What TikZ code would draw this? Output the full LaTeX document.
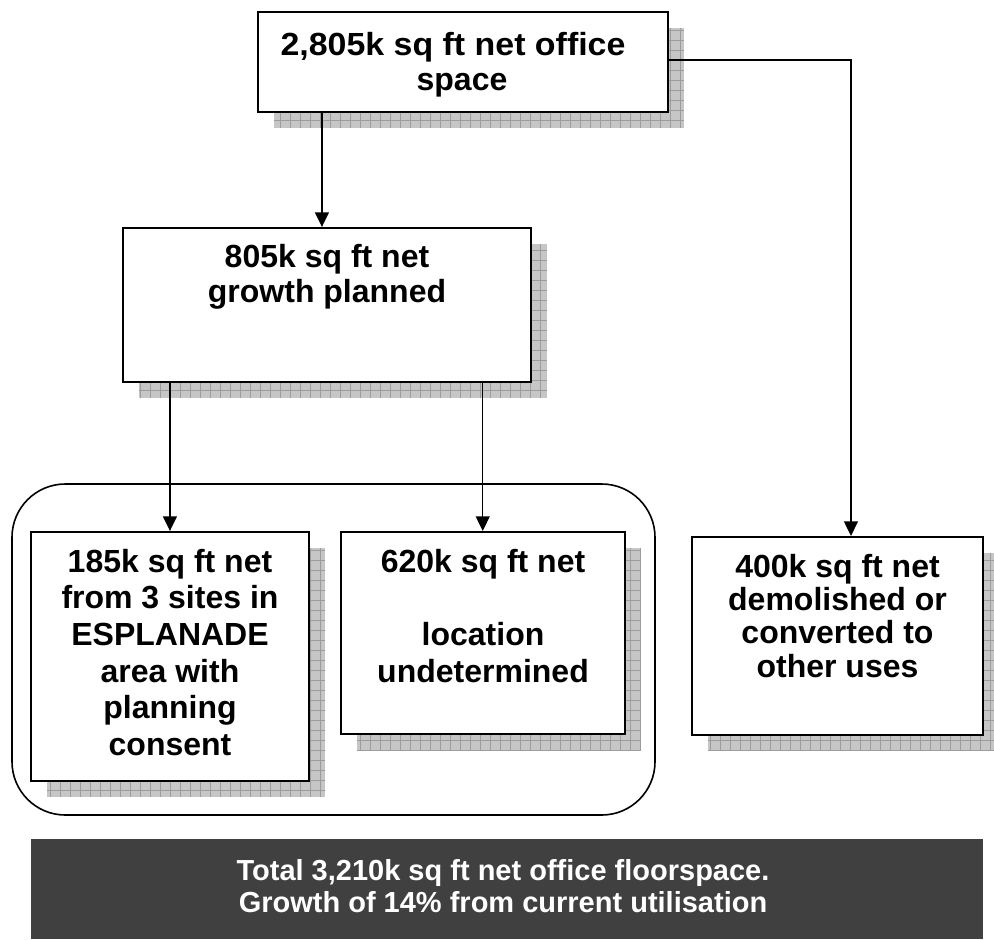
\documentclass[tikz,border=0pt]{standalone}
\usepackage{fontspec}
\setmainfont{Liberation Sans}
\usetikzlibrary{fit,arrows.meta}
\definecolor{darkbg}{HTML}{404040}
\definecolor{shbase}{HTML}{C6C6C6}
\definecolor{shgrid}{HTML}{9C9C9C}
\newcommand\myshadow[4]{%
  \begin{scope}
    \clip (#1,#2) rectangle (#3,#4);
    \fill[shbase] (#1,#2) rectangle (#3,#4);
    \draw[shgrid, line width=0.6pt] (#1,#2) grid[step=7.5pt] (#3,#4);
  \end{scope}}
\tikzset{
  boxnode/.style={draw=black, fill=white, line width=1.6pt, inner sep=0pt, rectangle},
  txt/.style={align=center, inner sep=0pt, anchor=north, text=black},
  arr/.style={line width=1.1pt, -{Triangle[length=11pt,width=10.5pt]}},
}
\begin{document}
\begin{tikzpicture}[x=0.75pt,y=-0.75pt]
\useasboundingbox (0,0) rectangle (994,939);
% container
\node[draw, line width=1.2pt, rounded corners=40pt, inner sep=0pt, fit={(12,484) (655,815)}] (grp) {};
% shadows
\myshadow{274}{28}{684}{128}
\myshadow{139}{244}{547}{398}
\myshadow{47}{548}{325}{797}
\myshadow{357}{548}{641}{750}
\myshadow{708}{553}{1000}{751}
% boxes
\node[boxnode, fit={(258,12) (668,112)}] (top) {};
\node[boxnode, fit={(123,228) (531,382)}] (mid) {};
\node[boxnode, fit={(31,532) (309,781)}] (left) {};
\node[boxnode, fit={(341,532) (625,734)}] (cen) {};
\node[boxnode, fit={(692,537) (983,735)}] (right) {};
\node[fill=darkbg, inner sep=0pt, fit={(31,839) (983,939)}] (total) {};
% texts
\node[txt, font=\fontsize{24}{26.25}\selectfont\bfseries] (toptxt) at (462,31)
  {\rule{0pt}{18pt}\scalebox{1.06}[1]{2,805k sq ft net office}\hspace*{13.5pt}\\space};
\node[txt, font=\fontsize{24}{26.25}\selectfont\bfseries] (midtxt) at (327,243)
  {\rule{0pt}{18pt}805k sq ft net\\growth planned};
\node[txt, font=\fontsize{24}{27.5}\selectfont\bfseries] (lefttxt) at (170,548)
  {\rule{0pt}{18pt}185k sq ft net\\from 3 sites in\\ESPLANADE\\area with\\planning\\consent};
\node[txt, font=\fontsize{24}{27.5}\selectfont\bfseries] (centxt) at (483,548)
  {\rule{0pt}{18pt}620k sq ft net\\[27.5pt]location\\undetermined};
\node[txt, font=\fontsize{24}{25}\selectfont\bfseries] (righttxt) at (837.5,553)
  {\rule{0pt}{18pt}400k sq ft net\\demolished or\\converted to\\other uses};
\node[txt, text=white, font=\fontsize{21.75}{24}\selectfont\bfseries] (totaltxt) at (503,858)
  {\rule{0pt}{16.5pt}Total 3,210k sq ft net office floorspace.\\Growth of 14\% from current utilisation};
% connectors
\draw[arr] ([xshift=48.75pt]top.south west) coordinate (a1) -- (a1 |- mid.north);
\draw[arr] ([yshift=1.5pt]top.east) -| ([xshift=10.1pt]right.north);
\draw[arr] ([xshift=36pt]mid.south west) coordinate (a2) -- (a2 |- left.north);
\draw[arr] ([xshift=-37pt]mid.south east) coordinate (a3) -- (a3 |- cen.north);
\end{tikzpicture}
\end{document}
